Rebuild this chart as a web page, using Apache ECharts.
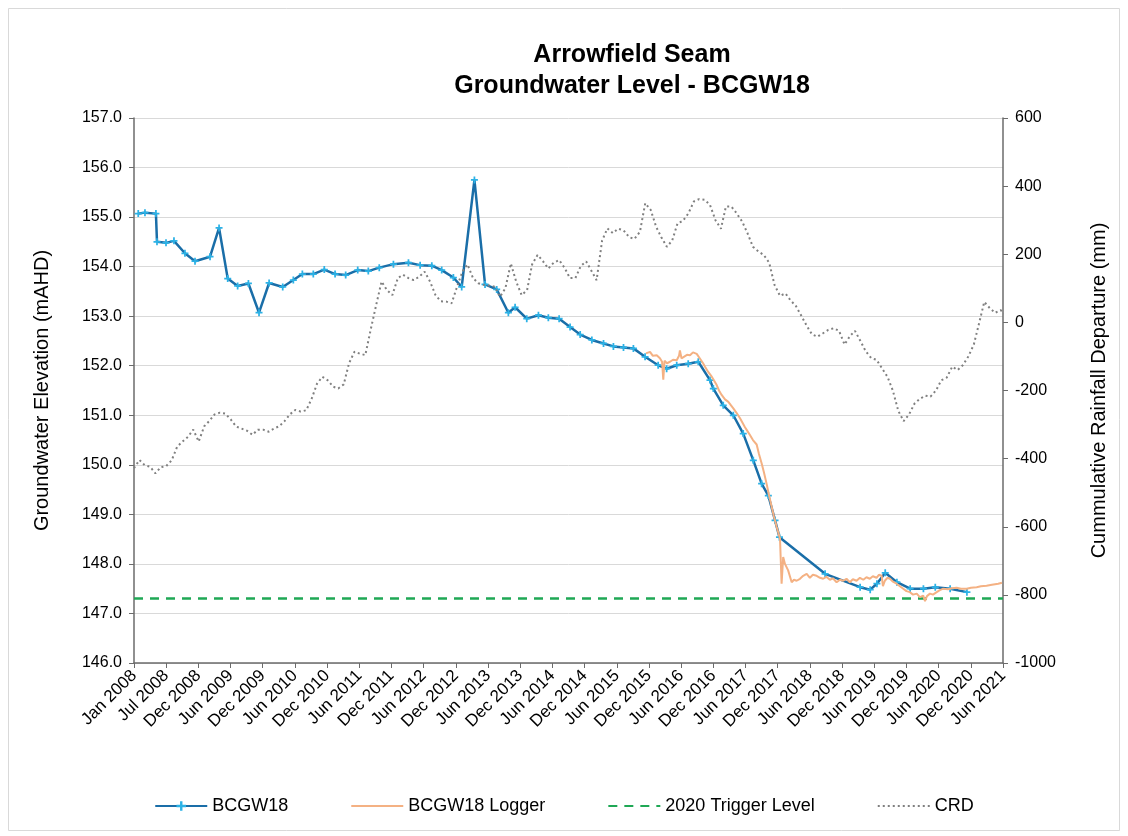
<!DOCTYPE html>
<html>
<head>
<meta charset="utf-8">
<script src="https://cdn.jsdelivr.net/npm/echarts@6/dist/echarts.min.js"></script>
<style>
    html, body { margin: 0; padding: 0; background: #fff; }
    #chart { width: 1128px; height: 836px; }
</style>
</head>
<body>
<div id="chart"></div>
<script>
// BCGW18 manual readings (mAHD)
var bcgwDates = ['2008-01-25', '2008-03-03', '2008-05-04', '2008-05-10', '2008-06-30', '2008-08-14', '2008-10-15',
    '2008-12-11', '2009-03-06', '2009-04-26', '2009-06-14', '2009-08-09', '2009-10-09', '2009-12-08', '2010-02-03',
    '2010-04-21', '2010-06-20', '2010-08-10', '2010-10-11', '2010-12-12', '2011-02-11', '2011-04-12', '2011-06-19',
    '2011-08-18', '2011-10-19', '2012-01-07', '2012-04-01', '2012-06-06', '2012-08-11', '2012-10-06', '2012-12-11',
    '2013-01-27', '2013-04-09', '2013-06-08', '2013-08-13', '2013-10-18', '2013-11-25', '2014-01-30', '2014-04-06',
    '2014-06-01', '2014-08-01', '2014-10-02', '2014-11-28', '2015-02-02', '2015-04-09', '2015-06-04', '2015-07-31',
    '2015-09-25', '2015-11-30', '2016-02-12', '2016-03-31', '2016-05-27', '2016-07-31', '2016-09-26', '2016-12-01',
    '2016-12-20', '2017-02-14', '2017-04-12', '2017-06-07', '2017-08-03', '2017-09-19', '2017-10-27', '2017-12-04',
    '2017-12-29', '2018-09-13', '2019-03-30', '2019-05-26', '2019-07-03', '2019-08-19', '2019-10-24', '2020-01-07',
    '2020-03-22', '2020-05-28', '2020-08-20', '2020-11-23'];
var bcgwValues = [155.07, 155.09, 155.07, 154.50, 154.48, 154.52, 154.27,
    154.11, 154.20, 154.78, 153.76, 153.61, 153.66, 153.07, 153.67,
    153.59, 153.73, 153.85, 153.85, 153.94, 153.85, 153.83, 153.93,
    153.91, 153.98, 154.05, 154.08, 154.03, 154.02, 153.93, 153.78,
    153.59, 155.75, 153.64, 153.54, 153.07, 153.18, 152.95, 153.02,
    152.97, 152.95, 152.78, 152.63, 152.52, 152.45, 152.39, 152.37,
    152.35, 152.18, 152.01, 151.94, 152.01, 152.04, 152.08, 151.71,
    151.54, 151.20, 151.00, 150.63, 150.09, 149.62, 149.38, 148.88,
    148.54, 147.80, 147.53, 147.48, 147.60, 147.82, 147.63, 147.50,
    147.50, 147.53, 147.50, 147.43];

// BCGW18 data logger (mAHD)
var loggerDates = ['2015-12-05', '2015-12-28', '2016-01-13', '2016-02-04', '2016-02-22', '2016-03-05', '2016-03-12',
    '2016-03-19', '2016-04-02', '2016-04-19', '2016-05-06', '2016-05-27', '2016-06-09', '2016-06-14', '2016-06-23',
    '2016-07-03', '2016-07-24', '2016-08-10', '2016-08-27', '2016-09-17', '2016-10-06', '2016-10-23', '2016-11-03',
    '2016-11-20', '2016-12-11', '2016-12-24', '2017-01-08', '2017-01-21', '2017-02-05', '2017-02-24', '2017-03-15',
    '2017-03-30', '2017-04-12', '2017-04-30', '2017-05-20', '2017-06-03', '2017-06-17', '2017-07-01', '2017-07-15',
    '2017-08-01', '2017-08-22', '2017-09-04', '2017-09-19', '2017-10-02', '2017-10-17', '2017-10-30', '2017-11-15',
    '2017-11-28', '2017-12-13', '2018-01-01', '2018-01-10', '2018-01-19', '2018-01-29', '2018-02-16', '2018-03-08',
    '2018-03-21', '2018-04-05', '2018-04-24', '2018-05-12', '2018-06-01', '2018-06-19', '2018-07-06', '2018-07-27',
    '2018-08-15', '2018-09-02', '2018-09-20', '2018-10-10', '2018-10-27', '2018-11-17', '2018-12-06', '2018-12-24',
    '2019-01-12', '2019-01-31', '2019-02-17', '2019-03-10', '2019-03-29', '2019-04-17', '2019-05-05', '2019-05-24',
    '2019-06-10', '2019-07-01', '2019-07-14', '2019-07-30', '2019-08-06', '2019-08-17', '2019-08-31', '2019-09-15',
    '2019-10-02', '2019-10-22', '2019-11-10', '2019-11-29', '2019-12-17', '2020-01-06', '2020-01-23', '2020-02-13',
    '2020-03-02', '2020-03-21', '2020-03-31', '2020-04-11', '2020-04-28', '2020-05-15', '2020-06-05', '2020-06-23',
    '2020-07-12', '2020-08-07', '2020-08-30', '2020-09-26', '2020-10-20', '2020-11-21', '2020-12-16', '2021-01-17',
    '2021-02-10', '2021-03-14', '2021-04-13', '2021-05-19', '2021-06-09'];
var loggerValues = [152.25, 152.28, 152.20, 152.21, 152.15, 152.08, 151.72,
    152.10, 152.05, 152.08, 152.12, 152.11, 152.20, 152.31, 152.15,
    152.18, 152.22, 152.21, 152.27, 152.24, 152.14, 152.05, 151.98,
    151.88, 151.78, 151.70, 151.61, 151.50, 151.41, 151.32, 151.27,
    151.20, 151.14, 151.05, 150.94, 150.85, 150.76, 150.68, 150.60,
    150.50, 150.41, 150.22, 150.03, 149.85, 149.62, 149.40, 149.15,
    148.95, 148.75, 148.51, 147.60, 148.14, 148.00, 147.87, 147.63,
    147.68, 147.66, 147.70, 147.76, 147.80, 147.72, 147.78, 147.76,
    147.72, 147.70, 147.74, 147.68, 147.71, 147.63, 147.68, 147.66,
    147.70, 147.63, 147.69, 147.66, 147.72, 147.68, 147.73, 147.70,
    147.75, 147.72, 147.78, 147.76, 147.55, 147.66, 147.72, 147.70,
    147.64, 147.60, 147.55, 147.50, 147.45, 147.43, 147.38, 147.40,
    147.33, 147.36, 147.25, 147.35, 147.40, 147.38, 147.43, 147.47,
    147.50, 147.49, 147.51, 147.52, 147.50, 147.50, 147.52, 147.53,
    147.55, 147.56, 147.58, 147.60, 147.62];

// 2020 trigger level
var triggerDates = ['2008-01-01', '2021-06-15'];
var triggerValues = [147.3, 147.3];

// Cumulative rainfall departure (mm), monthly from Jan 2008
var crdStart = [2008, 0];
var crdValues = [
    -428, -404, -419, -424, -443, -425, -422, -405, -365, -350, -336, -315,
    -350, -305, -290, -270, -265, -268, -285, -306, -312, -318, -330, -315,
    -315, -321, -312, -305, -290, -270, -257, -262, -258, -225, -180, -160,
    -170, -189, -194, -182, -120, -86, -92, -96, -20, 50, 120, 95,
    80, 130, 140, 130, 124, 134, 149, 120, 80, 62, 61, 56,
    105, 150, 170, 130, 115, 110, 108, 105, 75, 100, 173, 120,
    80, 95, 170, 198, 180, 158, 175, 183, 160, 130, 130, 165,
    179, 150, 124, 240, 276, 262, 275, 270, 250, 245, 266, 350,
    330, 280, 250, 222, 240, 291, 298, 320, 355, 362, 360, 345,
    300, 275, 340, 340, 320, 296, 262, 222, 208, 198, 175, 110,
    78, 85, 65, 48, 20, -10, -35, -42, -32, -22, -17, -25,
    -65, -40, -25, -55, -85, -105, -110, -135, -160, -200, -260, -290,
    -270, -238, -225, -215, -218, -200, -170, -162, -130, -140, -125, -100,
    -65, 0, 60, 42, 28, 36, 22];

var monthNames = ['Jan', 'Feb', 'Mar', 'Apr', 'May', 'Jun', 'Jul', 'Aug', 'Sep', 'Oct', 'Nov', 'Dec'];
var DAY = 86400000;
var xMin = Date.UTC(2008, 0, 1);
var xStep = 182 * DAY;
var xMax = xMin + 27 * xStep;

function ts(s) {
    var p = s.split('-');
    return Date.UTC(+p[0], +p[1] - 1, +p[2]);
}
function pairs(dates, values) {
    var out = [];
    for (var i = 0; i < dates.length; i++) {
        out.push([ts(dates[i]), values[i]]);
    }
    return out;
}
var crdData = [];
for (var i = 0; i < crdValues.length; i++) {
    crdData.push([Date.UTC(crdStart[0], crdStart[1] + i, 1), crdValues[i]]);
}

var font = '"Liberation Sans", Arial, sans-serif';
var axisColor = '#6b6b6b';
var noSymbol = { opacity: 0 };

var myChart = echarts.init(document.getElementById('chart'));
var option = {
    backgroundColor: '#fff',
    animation: false,
    textStyle: { fontFamily: font },
    graphic: [{
        type: 'rect',
        shape: { x: 8.5, y: 8.5, width: 1111, height: 822 },
        style: { fill: null, stroke: '#d9d9d9', lineWidth: 1 }
    }],
    title: {
        text: 'Arrowfield Seam\nGroundwater Level - BCGW18',
        left: 627,
        top: 35,
        textAlign: 'center',
        textStyle: { fontSize: 25, fontWeight: 'bold', color: '#000', lineHeight: 31, fontFamily: font }
    },
    legend: {
        bottom: 16,
        left: 'center',
        itemWidth: 52,
        itemHeight: 12,
        itemGap: 62,
        textStyle: { fontSize: 18, color: '#000', fontFamily: font },
        data: [
            { name: 'BCGW18' },
            { name: 'BCGW18 Logger', itemStyle: noSymbol },
            { name: '2020 Trigger Level', itemStyle: noSymbol },
            { name: 'CRD', itemStyle: noSymbol }
        ]
    },
    grid: { left: 134, right: 125, top: 118, bottom: 173 },
    xAxis: {
        type: 'value',
        min: xMin,
        max: xMax,
        interval: xStep,
        axisLine: { onZero: false, lineStyle: { color: axisColor, width: 1.5 } },
        axisTick: { show: true, inside: false, length: 5, lineStyle: { color: axisColor } },
        splitLine: { show: false },
        axisLabel: {
            rotate: 45,
            margin: 10,
            fontSize: 17,
            color: '#000',
            fontFamily: font,
            formatter: function (v) {
                var d = new Date(v);
                return monthNames[d.getUTCMonth()] + ' ' + d.getUTCFullYear();
            }
        }
    },
    yAxis: [{
        type: 'value',
        min: 146,
        max: 157,
        interval: 1,
        name: 'Groundwater Elevation (mAHD)',
        nameLocation: 'middle',
        nameRotate: 90,
        nameGap: 82,
        nameTextStyle: { fontSize: 20, color: '#000', fontFamily: font },
        axisLine: { show: true, onZero: false, lineStyle: { color: axisColor, width: 1.5 } },
        axisTick: { show: true, length: 5, lineStyle: { color: axisColor } },
        splitLine: { show: true, lineStyle: { color: '#d9d9d9', width: 1 } },
        axisLabel: {
            margin: 12,
            fontSize: 16,
            color: '#000',
            fontFamily: font,
            formatter: function (v) { return v.toFixed(1); }
        }
    }, {
        type: 'value',
        position: 'right',
        min: -1000,
        max: 600,
        interval: 200,
        name: 'Cummulative Rainfall Departure (mm)',
        nameLocation: 'middle',
        nameRotate: 90,
        nameGap: 86,
        nameTextStyle: { fontSize: 20, color: '#000', fontFamily: font },
        axisLine: { show: true, onZero: false, lineStyle: { color: axisColor, width: 1.5 } },
        axisTick: { show: true, length: 5, lineStyle: { color: axisColor } },
        splitLine: { show: false },
        axisLabel: {
            margin: 12,
            fontSize: 16,
            color: '#000',
            fontFamily: font,
            formatter: function (v) { return String(v); }
        }
    }],
    series: [{
        name: 'BCGW18',
        type: 'line',
        yAxisIndex: 0,
        data: pairs(bcgwDates, bcgwValues),
        symbol: 'path://M3,0h2v3h3v2h-3v3h-2v-3h-3v-2h3z',
        symbolSize: 7,
        showSymbol: true,
        itemStyle: { color: '#2cb2e6' },
        lineStyle: { color: '#1a6ea8', width: 2.5 },
        z: 3
    }, {
        name: 'BCGW18 Logger',
        type: 'line',
        yAxisIndex: 0,
        data: pairs(loggerDates, loggerValues),
        showSymbol: false,
        symbol: 'none',
        itemStyle: { color: '#f4b183' },
        lineStyle: { color: '#f4b183', width: 2 },
        z: 4
    }, {
        name: '2020 Trigger Level',
        type: 'line',
        yAxisIndex: 0,
        data: pairs(triggerDates, triggerValues),
        showSymbol: false,
        symbol: 'none',
        itemStyle: { color: '#1fa855' },
        lineStyle: { color: '#1fa855', width: 2.5, type: [9, 7] },
        z: 2
    }, {
        name: 'CRD',
        type: 'line',
        yAxisIndex: 1,
        data: crdData,
        showSymbol: false,
        symbol: 'none',
        itemStyle: { color: '#808080' },
        lineStyle: { color: '#808080', width: 2, type: [2, 3] },
        z: 5
    }]
};

// 为echarts对象加载数据
myChart.setOption(option);
</script>
</body>
</html>
